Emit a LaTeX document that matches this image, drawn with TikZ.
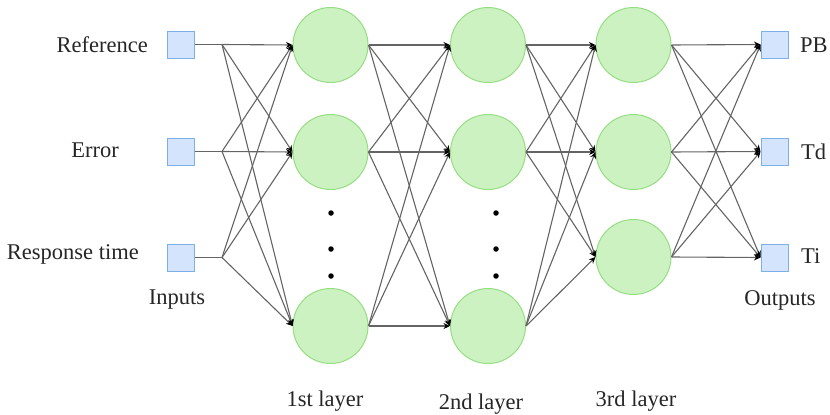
\documentclass[tikz,border=0pt]{standalone}
\usepackage{fontspec}
\setmainfont{Liberation Serif}
\usetikzlibrary{arrows.meta}
\definecolor{nfill}{RGB}{204,242,194}
\definecolor{ndraw}{RGB}{150,222,130}
\definecolor{sfill}{RGB}{212,228,252}
\definecolor{sdraw}{RGB}{125,175,232}
\definecolor{wire}{RGB}{100,100,100}
\tikzset{
  neuron/.style={circle, draw=ndraw, fill=nfill, line width=1pt, minimum size=75pt, inner sep=0pt},
  port/.style={rectangle, draw=sdraw, fill=sfill, line width=1pt, minimum size=27pt, inner sep=0pt},
  lbl/.style={font=\fontsize{22.5}{26}\selectfont, text=black!85, inner sep=0pt},
  wireline/.style={draw=wire, line width=1.1pt},
  arr/.style={wireline, -{Stealth[length=6.5pt,width=6pt,black]}},
  dotnode/.style={circle, fill=black, minimum size=5.5pt, inner sep=0pt}
}
\begin{document}
\begin{tikzpicture}[x=1pt,y=-1pt]
\useasboundingbox (0,0) rectangle (830,415);
% inputs
\node[port] (in1) at (180.5,44.5) {};
\node[port] (in2) at (180.5,151.5) {};
\node[port] (in3) at (180.5,257.5) {};
\coordinate (b1) at (222,44.5);
\coordinate (b2) at (222,151.5);
\coordinate (b3) at (222,257.5);
% layers
\node[neuron] (h11) at (330.5,45) {};
\node[neuron] (h12) at (330.5,152) {};
\node[neuron] (h13) at (330.5,326) {};
\node[neuron] (h21) at (488,45) {};
\node[neuron] (h22) at (488,152) {};
\node[neuron] (h23) at (488,326) {};
\node[neuron] (h31) at (633.5,45) {};
\node[neuron] (h32) at (633.5,152) {};
\node[neuron] (h33) at (633.5,257) {};
% outputs
\node[port] (out1) at (774.5,44.5) {};
\node[port] (out2) at (774.5,151.5) {};
\node[port] (out3) at (774.5,257.5) {};
% dots
\node[dotnode] (d11) at (331,213) {};
\node[dotnode] (d12) at (331,249) {};
\node[dotnode] (d13) at (331,276) {};
\node[dotnode] (d21) at (496,213) {};
\node[dotnode] (d22) at (496,249) {};
\node[dotnode] (d23) at (496,276) {};
% input wires
\foreach \i in {1,2,3} {
  \draw[wireline] (in\i.east) -- (b\i);
  \foreach \j in {1,2,3} {
    \draw[arr] (b\i) -- (h1\j.west);
  }
}
% hidden wires
\foreach \i in {1,2,3} {
  \foreach \j in {1,2,3} {
    \draw[arr] (h1\i.east) -- (h2\j.west);
    \draw[arr] (h2\i.east) -- (h3\j.west);
    \draw[arr] (h3\i.east) -- (out\j.west);
  }
}
% labels
\node[lbl, anchor=east] (t1) at (148,45) {Reference};
\node[lbl, anchor=east] (t2) at (119,150) {Error};
\node[lbl, anchor=east] (t3) at (139,254) {Response time};
\node[lbl] (t4) at (177,300) {Inputs};
\node[lbl, anchor=west] (t5) at (800,45) {PB};
\node[lbl, anchor=west] (t6) at (801,152) {Td};
\node[lbl, anchor=west] (t7) at (801,256) {Ti};
\node[lbl] (t8) at (780,300) {Outputs};
\node[lbl] (t9) at (325,401) {1st layer};
\node[lbl] (t10) at (481,404) {2nd layer};
\node[lbl] (t11) at (636,401) {3rd layer};
\end{tikzpicture}
\end{document}
